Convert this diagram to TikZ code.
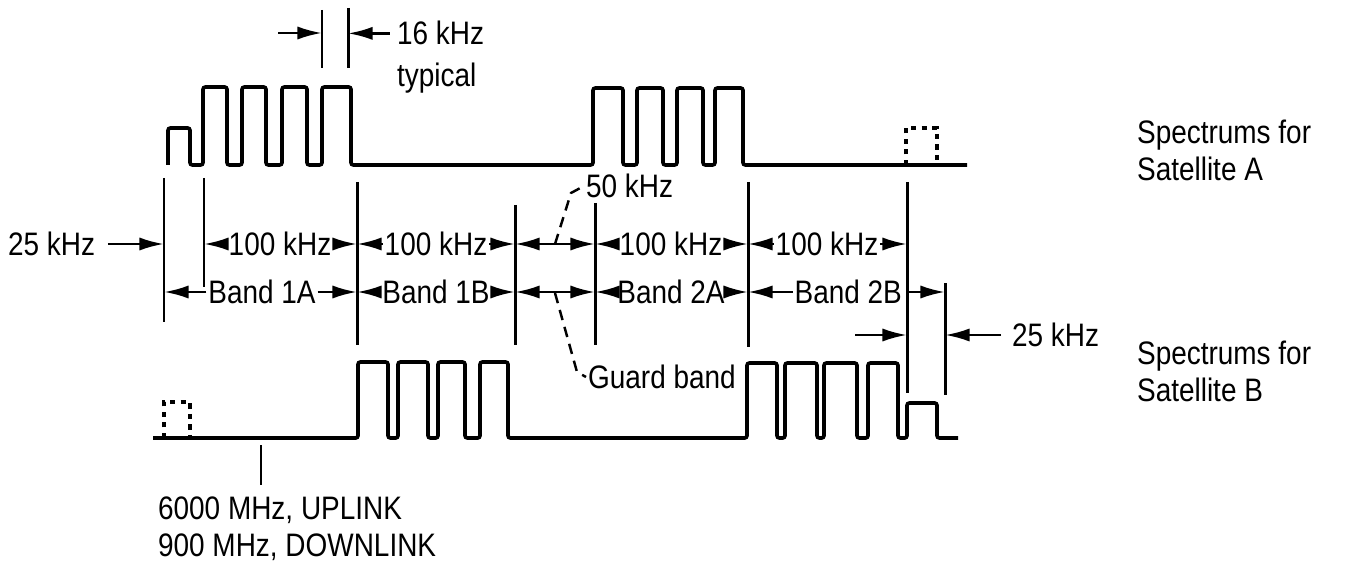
\documentclass[tikz,border=0pt]{standalone}
\usepackage{fontspec}
\newfontfamily\figfam[FakeStretch=0.86]{Liberation Sans}
\newcommand{\figfont}{\figfam\fontsize{18.5}{21}\selectfont}
\usepackage{tikz}
\usetikzlibrary{arrows.meta}

\begin{document}
\begin{tikzpicture}[x=0.02cm,y=-0.02cm,
    trace/.style={line width=2.1pt,rounded corners=1.4pt},
    tick/.style={line width=1.7pt},
    dim/.style={line width=1.5pt,-{Latex[length=14pt,width=7.5pt]}},
    dimboth/.style={line width=1.5pt,{Latex[length=14pt,width=7.5pt]}-{Latex[length=14pt,width=7.5pt]}},
    lead/.style={line width=1.4pt,dash pattern=on 6pt off 4pt},
    lbl/.style={font=\figfont,inner sep=1pt}]
    \useasboundingbox (0,0) rectangle (1364,577);
    % band edges
    \foreach \n/\x/\a/\b in {0/164/178/322,1/204/178/287,2/357/182/345,3/515/205/345,
        4/595/203/345,5/748/182/347,6/907/182/393,7/945/283/395}{
        \coordinate (top\n) at (\x,\a);
        \coordinate (bot\n) at (\x,\b);
        \draw[tick] (top\n) -- (bot\n);}
    \coordinate (row1) at (0,244);
    \coordinate (row2) at (0,292);
    % spectrum, satellite A
    \draw[trace] (168,165) -- (168,128) -- (190,128) -- (190,165) -- (203,165)
        -- (203,87) -- (227,87) -- (227,165) -- (242,165) -- (242,87) -- (266,87) -- (266,165)
        -- (282,165) -- (282,87) -- (307,87) -- (307,165) -- (322,165) -- (322,87) -- (351,87)
        -- (351,165) -- (593,165) -- (593,88) -- (623,88) -- (623,165) -- (637,165) -- (637,88)
        -- (663,88) -- (663,165) -- (677,165) -- (677,88) -- (703,88) -- (703,165) -- (715,165)
        -- (715,88) -- (743,88) -- (743,165) -- (967,165);
    \draw[line width=2pt,dashed] (906,165) -- (906,128) -- (937,128) -- (937,165);
    % spectrum, satellite B
    \draw[trace] (153,438) -- (358,438) -- (358,362) -- (388,362) -- (388,438) -- (398,438)
        -- (398,362) -- (428,362) -- (428,438) -- (438,438) -- (438,362) -- (465,362) -- (465,438)
        -- (480,438) -- (480,362) -- (508,362) -- (508,438) -- (747,438) -- (747,363) -- (777,363)
        -- (777,438) -- (785,438) -- (785,363) -- (817,363) -- (817,438) -- (824,438) -- (824,363)
        -- (857,363) -- (857,438) -- (868,438) -- (868,363) -- (898,363) -- (898,438) -- (907,438)
        -- (907,403) -- (937,403) -- (937,438) -- (958,438);
    \draw[line width=2pt,dashed] (164,438) -- (164,402) -- (190,402) -- (190,438);
    % 16 kHz typical
    \coordinate (w1a) at (322,10); \coordinate (w1b) at (322,68);
    \coordinate (w2a) at (348,8);  \coordinate (w2b) at (348,68);
    \draw[tick] (w1a) -- (w1b); \draw[tick] (w2a) -- (w2b);
    \node[lbl,anchor=base west] (k16) at (395,45) {16 kHz};
    \node[lbl,anchor=base west] (typ) at (395,87) {typical};
    \coordinate (p16) at (278,33);
    \draw[dim] (p16) -- (p16 -| w1a);
    \draw[dim] ([xshift=-3pt]k16.west) -- (k16.west -| w2a);
    % 100 kHz row
    \node[lbl,anchor=west] (k25) at (6,244) {25 kHz};
    \draw[dim] ([xshift=6pt]k25.east) -- (k25.east -| top0);
    \foreach \k/\x/\l/\r in {ka/280/1/2,kb/436/2/3,kc/671/4/5,kd/827/5/6}{
        \node[lbl] (\k) at (\x,244) {100 kHz};
        \draw[dim] (\k.west) -- (\k.west -| top\l);
        \draw[dim] (\k.east) -- (\k.east -| top\r);}
    \draw[dimboth] (row1 -| top3) -- (row1 -| top4);
    \node[lbl,anchor=west] (k50) at (584,186) {50 kHz};
    \coordinate (g1) at (555,244);
    \draw[lead] (g1) -- (571,193) -- (k50.west);
    % band row
    \foreach \k/\x/\t/\l/\r in {ba/262/Band 1A/0/2,bb/436/Band 1B/2/3,bc/671/Band 2A/4/5}{
        \node[lbl] (\k) at (\x,292) {\t};
        \draw[dim] (\k.west) -- (\k.west -| top\l);
        \draw[dim] (\k.east) -- (\k.east -| top\r);}
    \node[lbl,anchor=east] (bd) at (904,292) {Band 2B};
    \draw[dim] (bd.west) -- (bd.west -| top5);
    \draw[dim] (row2 -| top6) -- (row2 -| top7);
    \draw[dimboth] (row2 -| top3) -- (row2 -| top4);
    \node[lbl,anchor=west] (gb) at (586,377) {Guard band};
    \coordinate (g2) at (555,293);
    \draw[lead] (g2) -- (577,372) -- (gb.west);
    % 25 kHz, satellite B side
    \node[lbl,anchor=west] (k25b) at (1010,335) {25 kHz};
    \coordinate (p25) at (855,335);
    \draw[dim] (p25) -- (p25 -| top6);
    \draw[dim] ([xshift=-5pt]k25b.west) -- (k25b.west -| top7);
    % carrier
    \coordinate (c1) at (261,445); \coordinate (c2) at (261,485);
    \draw[tick] (c1) -- (c2);
    \node[lbl,align=left,anchor=west] (carr) at (156,529) {6000 MHz, UPLINK\\900 MHz, DOWNLINK};
    \node[lbl,align=left,anchor=west] (satA) at (1135,150) {Spectrums for\\Satellite A};
    \node[lbl,align=left,anchor=west] (satB) at (1135,371) {Spectrums for\\Satellite B};
\end{tikzpicture}
\end{document}
